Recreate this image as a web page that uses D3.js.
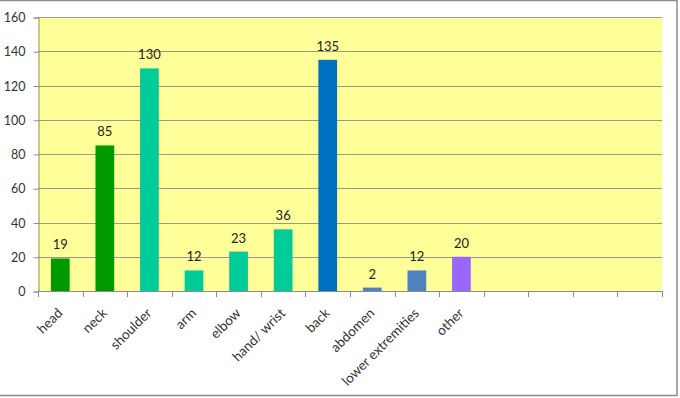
<!DOCTYPE html>
<html>
<head>
<meta charset="utf-8">
<script src="https://cdn.jsdelivr.net/npm/d3@7"></script>
<style>
  body { margin: 0; background: #fff; }
  svg { display: block; font-family: Lato, "Open Sans", sans-serif; }
</style>
</head>
<body>
<div id="chart"></div>
<script>
// body regions and counts
var categories = ["head", "neck", "shoulder", "arm", "elbow", "hand/ wrist", "back",
                  "abdomen", "lower extremities", "other", "", "", "", ""];
var counts = [19, 85, 130, 12, 23, 36, 135, 2, 12, 20];
var barColors = ["#009900", "#009900", "#00cc99", "#00cc99", "#00cc99", "#00cc99",
                 "#0070c0", "#4f81bd", "#4f81bd", "#9966ff"];
var yTicks = [0, 20, 40, 60, 80, 100, 120, 140, 160];

var width = 680,
    height = 398;
var margin = {top: 17, right: 17, bottom: 107, left: 38};

var svg = d3.select("#chart")
    .append("svg")
    .attr("width", width)
    .attr("height", height);

// outer frame
svg.append("rect")
    .attr("x", -2).attr("y", 0.5)
    .attr("width", 679).attr("height", 395)
    .attr("fill", "#fff")
    .attr("stroke", "#8c8c8c")
    .attr("stroke-width", 1.5);

var slots = categories.map((c, i) => "c" + i);

var x = d3.scaleBand()
    .domain(slots)
    .range([margin.left, width - margin.right - 1])
    .paddingInner(0.58)
    .paddingOuter(0.29);

var y = d3.scaleLinear()
    .domain([0, 160])
    .range([height - margin.bottom, margin.top]);

// plot area
svg.append("rect")
    .attr("x", margin.left)
    .attr("y", margin.top)
    .attr("width", width - margin.right - 1 - margin.left)
    .attr("height", y(0) - margin.top)
    .attr("fill", "#ffff99");

// gridlines
svg.append("g")
    .selectAll("line")
    .data(yTicks.slice(1))
    .enter()
    .append("line")
    .attr("x1", margin.left)
    .attr("x2", width - margin.right - 1)
    .attr("y1", d => Math.round(y(d)) + 0.5)
    .attr("y2", d => Math.round(y(d)) + 0.5)
    .attr("stroke", "#9a9a8a")
    .attr("stroke-width", 1);

// y axis
var yAxis = svg.append("g")
    .attr("transform", "translate(" + (margin.left + 0.5) + ",0.5)")
    .call(d3.axisLeft(y).tickValues(yTicks).tickSize(5).tickPadding(8));
yAxis.select(".domain").attr("stroke", "#8c8c8c");
yAxis.selectAll(".tick line").attr("stroke", "#8c8c8c");
yAxis.selectAll(".tick text")
    .attr("fill", "#333")
    .style("font-size", "12.5px")
    .style("font-family", "Lato, sans-serif");

// x axis with ticks at slot boundaries
var step = x.step();
var xg = svg.append("g");
xg.append("line")
    .attr("x1", margin.left)
    .attr("x2", width - margin.right - 1)
    .attr("y1", Math.round(y(0)) + 0.5)
    .attr("y2", Math.round(y(0)) + 0.5)
    .attr("stroke", "#8c8c8c");
xg.selectAll(".tk")
    .data(d3.range(slots.length + 1))
    .enter()
    .append("line")
    .attr("x1", i => Math.round(margin.left + i * step) + 0.5)
    .attr("x2", i => Math.round(margin.left + i * step) + 0.5)
    .attr("y1", Math.round(y(0)))
    .attr("y2", Math.round(y(0)) + 6)
    .attr("stroke", "#8c8c8c");

// category labels
svg.append("g")
    .selectAll("text")
    .data(categories)
    .enter()
    .append("text")
    .attr("transform", (d, i) => "translate(" + (x(slots[i]) + x.bandwidth() / 2 + 3) + "," + (y(0) + 23) + ") rotate(-45)")
    .attr("text-anchor", "end")
    .attr("fill", "#333")
    .style("font-size", "13.5px")
    .text(d => d);

// bars
svg.append("g")
    .selectAll("rect")
    .data(counts)
    .enter()
    .append("rect")
    .attr("x", (d, i) => x(slots[i]))
    .attr("y", d => y(d))
    .attr("width", x.bandwidth())
    .attr("height", d => y(0) - y(d))
    .attr("fill", (d, i) => barColors[i]);

// value labels
svg.append("g")
    .selectAll("text")
    .data(counts)
    .enter()
    .append("text")
    .attr("x", (d, i) => x(slots[i]) + x.bandwidth() / 2)
    .attr("y", d => y(d) - 9)
    .attr("text-anchor", "middle")
    .attr("fill", "#222")
    .style("font-size", "13px")
    .text(d => d);
</script>
</body>
</html>
